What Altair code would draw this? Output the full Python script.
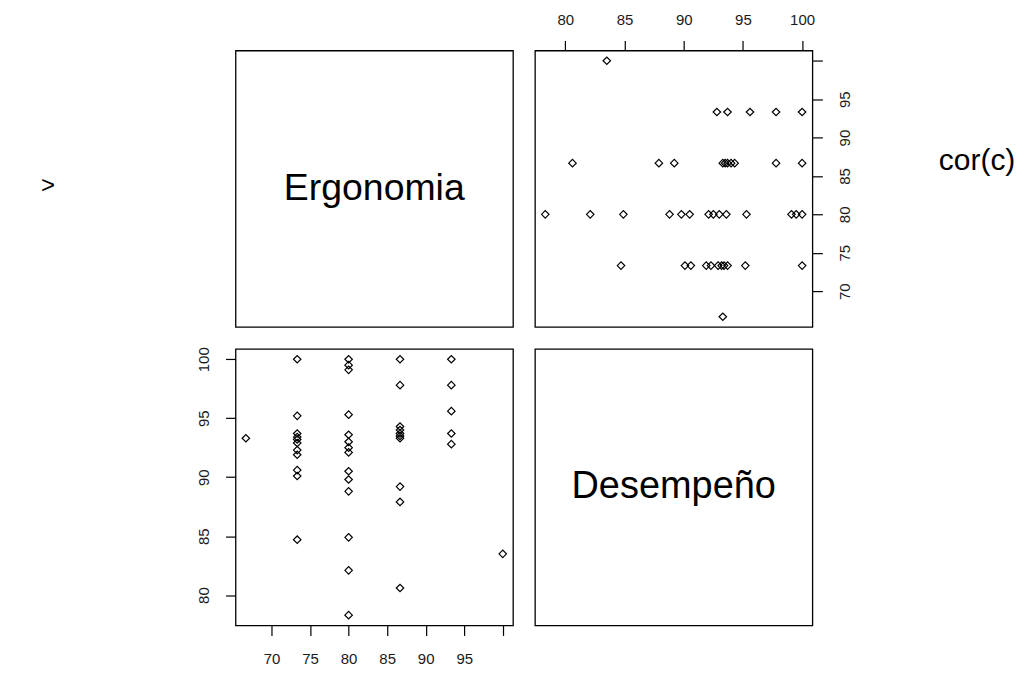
import altair as alt
import pandas as pd

# Data
ergonomia = [66.67,
             73.33, 73.33, 73.33, 73.33, 73.33, 73.33, 73.33, 73.33, 73.33, 73.33, 73.33,
             80, 80, 80, 80, 80, 80, 80, 80, 80, 80, 80, 80, 80, 80,
             86.67, 86.67, 86.67, 86.67, 86.67, 86.67, 86.67, 86.67, 86.67, 86.67,
             93.33, 93.33, 93.33, 93.33, 93.33,
             100]
desempeno = [93.3,
             84.7, 90.1, 90.6, 91.9, 92.3, 92.9, 93.2, 93.4, 93.7, 95.2, 100.0,
             78.3, 82.1, 84.9, 88.8, 89.8, 90.5, 92.1, 92.5, 93.0, 93.6, 95.3, 99.1, 99.5, 100.0,
             80.6, 87.9, 89.2, 93.3, 93.5, 93.7, 94.0, 94.3, 97.8, 100.0,
             92.8, 93.7, 95.6, 97.8, 100.0,
             83.5]

var_names = ["Ergonomia", "Desempeño"]
ergo_ticks = [70, 75, 80, 85, 90, 95, 100]
des_ticks = [80, 85, 90, 95, 100]
side_texts = [">", "cor(c)"]

df = pd.DataFrame({"Ergonomia": ergonomia, "Desempeno": desempeno})

ergo_dom = [65.33, 101.33]
des_dom = [77.43, 100.87]

W, H = 278, 277
FONT = "Liberation Sans"
LBL = dict(labelFont=FONT, labelFontSize=15, labelColor="#1a1a1a", tickColor="black",
           tickWidth=1.2, tickSize=10, domain=False, grid=False, title=None)

hide100 = "datum.value == 100 ? '' : datum.label"

pt = dict(shape="diamond", filled=False, color="black", size=56, strokeWidth=1.2, opacity=1)

def label_panel(text, size, extra=None):
    base = alt.Chart(pd.DataFrame({"t": [text]})).mark_text(
        font=FONT, fontSize=size, color="black", align="center", baseline="middle"
    ).encode(text="t:N", x=alt.value(W / 2), y=alt.value(H / 2))
    layers = [base]
    if extra is not None:
        layers.append(extra)
    return alt.layer(*layers).properties(width=W, height=H)

prompt = alt.Chart(pd.DataFrame({"t": [side_texts[0]]})).mark_text(
    font=FONT, fontSize=24, color="black", align="left", baseline="middle"
).encode(text="t:N", x=alt.value(-195), y=alt.value(136))

tl = label_panel(var_names[0], 37.5, prompt)
br = label_panel(var_names[1], 38)

tr_pts = alt.Chart(df).mark_point(**pt).encode(
    x=alt.X("Desempeno:Q", scale=alt.Scale(domain=des_dom, nice=False, zero=False),
            axis=alt.Axis(orient="top", values=des_ticks, labelPadding=13, labelAngle=0, **LBL)),
    y=alt.Y("Ergonomia:Q", scale=alt.Scale(domain=ergo_dom, nice=False, zero=False),
            axis=alt.Axis(orient="right", values=ergo_ticks, labelExpr=hide100, labelPadding=15,
                          labelAngle=270, labelAlign="center", labelBaseline="top", **LBL)),
)
cor_txt = alt.Chart(pd.DataFrame({"t": [side_texts[1]]})).mark_text(
    font=FONT, fontSize=30, color="black", align="center", baseline="middle"
).encode(text="t:N", x=alt.value(443), y=alt.value(111))
tr = alt.layer(tr_pts, cor_txt).properties(width=W, height=H)

bl = alt.Chart(df).mark_point(**pt).encode(
    x=alt.X("Ergonomia:Q", scale=alt.Scale(domain=ergo_dom, nice=False, zero=False),
            axis=alt.Axis(orient="bottom", values=ergo_ticks, labelExpr=hide100, labelPadding=16,
                          labelAngle=0, **LBL)),
    y=alt.Y("Desempeno:Q", scale=alt.Scale(domain=des_dom, nice=False, zero=False),
            axis=alt.Axis(orient="left", values=des_ticks, labelPadding=14,
                          labelAngle=270, labelAlign="center", labelBaseline="bottom", **LBL)),
).properties(width=W, height=H)

chart = alt.concat(tl, tr, bl, br, columns=2, spacing=22, bounds="flush").properties(
    padding={"left": 32, "top": 3, "right": 0, "bottom": 0},
    background="white",
).configure_view(stroke="black", strokeWidth=1.3)

chart.save("out.html", embed_options={"renderer": "svg", "actions": False})
